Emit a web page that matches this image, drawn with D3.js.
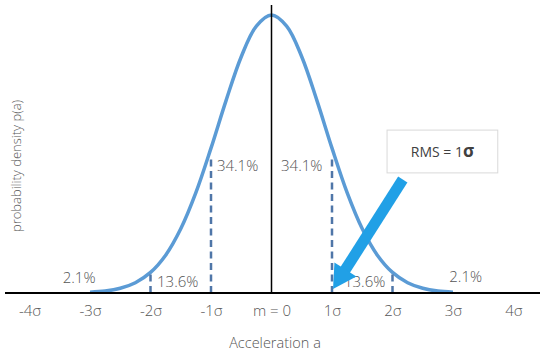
<!DOCTYPE html>
<html>
<head>
<meta charset="utf-8">
<script src="https://cdn.jsdelivr.net/npm/d3@7"></script>
<style>
  body { margin: 0; background: #fff; }
  svg text { font-family: "Open Sans", "Noto Sans", sans-serif; font-weight: 300; fill: #555; }
</style>
</head>
<body>
<svg></svg>
<script>
// curve, x in sigma units, y relative to the peak
const curveX = [-3, -2.75, -2.5, -2.25, -2, -1.75, -1.5, -1.25, -1, -0.75, -0.5, -0.25,
                0, 0.25, 0.5, 0.75, 1, 1.25, 1.5, 1.75, 2, 2.25, 2.5, 2.75, 3];
const curveY = [0.003, 0.007, 0.017, 0.037, 0.074, 0.136, 0.231, 0.361, 0.521, 0.693, 0.85, 0.96,
                1, 0.96, 0.85, 0.693, 0.521, 0.361, 0.231, 0.136, 0.074, 0.037, 0.017, 0.007, 0.003];

const tickValues = [-4, -3, -2, -1, 0, 1, 2, 3, 4];
const tickLabels = ["-4σ", "-3σ", "-2σ", "-1σ", "m = 0", "1σ", "2σ", "3σ", "4σ"];

// dashed markers at ±1σ / ±2σ
const dashX = [-2, -1, 1, 2];
const dashTop = [0.072, 0.48, 0.48, 0.072];

// area percentages
const pctText = ["2.1%", "13.6%", "34.1%", "34.1%", "13.6%", "2.1%"];
const pctX = [-3.18, -1.55, -0.56, 0.5, 1.54, 3.21];
const pctY = [0.035, 0.0216, 0.439, 0.439, 0.0216, 0.0406];

// RMS callout
const arrowFrom = [2.17, 0.408];
const arrowTo = [1.017, 0.0144];
const boxX = [1.91, 3.74];
const boxY = [0.586, 0.432];

const width = 540, height = 351;
const svg = d3.select("svg").attr("width", width).attr("height", height);

const x = d3.scaleLinear().domain([-4, 4]).range([29.5, 513.5]);
const y = d3.scaleLinear().domain([0, 1]).range([293, 15]);

const pts = curveX.map((d, i) => [d, curveY[i]]);

svg.append("path")
    .datum(pts)
    .attr("fill", "none")
    .attr("stroke", "#5b9bd5")
    .attr("stroke-width", 3.5)
    .attr("d", d3.line().x(d => x(d[0])).y(d => y(d[1])).curve(d3.curveCatmullRom));

svg.selectAll(".dash")
    .data(dashX)
    .enter()
    .append("line")
    .attr("class", "dash")
    .attr("x1", d => x(d)).attr("x2", d => x(d))
    .attr("y1", y(0)).attr("y2", (d, i) => y(dashTop[i]))
    .attr("stroke", "#4f76a8")
    .attr("stroke-width", 2.5)
    .attr("stroke-dasharray", "7,4.5");

// centre line
svg.append("line")
    .attr("x1", x(0)).attr("x2", x(0))
    .attr("y1", 5).attr("y2", y(0))
    .attr("stroke", "#000")
    .attr("stroke-width", 1.5);

// x axis
const xAxis = svg.append("g")
    .attr("transform", `translate(0,${y(0)})`)
    .call(d3.axisBottom(x)
        .tickValues(tickValues)
        .tickSize(0)
        .tickPadding(12)
        .tickFormat((d, i) => tickLabels[i]));
xAxis.select(".domain").remove();
xAxis.selectAll("text")
    .style("font-family", "'Open Sans', 'Noto Sans', sans-serif")
    .style("font-size", "15px")
    .style("font-weight", 300)
    .attr("fill", "#555");

svg.append("line")
    .attr("x1", 5).attr("x2", 540)
    .attr("y1", y(0)).attr("y2", y(0))
    .attr("stroke", "#000")
    .attr("stroke-width", 2);

svg.selectAll(".pct")
    .data(pctText)
    .enter()
    .append("text")
    .attr("class", "pct")
    .attr("x", (d, i) => x(pctX[i]))
    .attr("y", (d, i) => y(pctY[i]))
    .attr("text-anchor", "middle")
    .style("font-size", "15px")
    .text(d => d);

svg.append("text")
    .attr("x", 275)
    .attr("y", 348)
    .attr("text-anchor", "middle")
    .style("font-size", "14.5px")
    .text("Acceleration a");

svg.append("text")
    .attr("transform", "translate(21,166) rotate(-90)")
    .attr("text-anchor", "middle")
    .style("font-size", "13px")
    .text("probability density p(a)");

// arrow
const x0 = x(arrowFrom[0]), y0 = y(arrowFrom[1]);
const x1 = x(arrowTo[0]), y1 = y(arrowTo[1]);
const len = Math.hypot(x1 - x0, y1 - y0);
const ux = (x1 - x0) / len, uy = (y1 - y0) / len;
const headL = 23, headW = 13;
const bx = x1 - ux * headL, by = y1 - uy * headL;

svg.append("line")
    .attr("x1", x0).attr("y1", y0)
    .attr("x2", bx + ux * 2).attr("y2", by + uy * 2)
    .attr("stroke", "#21a0e6")
    .attr("stroke-width", 11);

svg.append("path")
    .attr("fill", "#21a0e6")
    .attr("d", `M${x1},${y1}L${bx - uy * headW},${by + ux * headW}L${bx + uy * headW},${by - ux * headW}Z`);

// RMS box
svg.append("rect")
    .attr("x", x(boxX[0]))
    .attr("y", y(boxY[0]))
    .attr("width", x(boxX[1]) - x(boxX[0]))
    .attr("height", y(boxY[1]) - y(boxY[0]))
    .attr("fill", "#fff")
    .attr("stroke", "#d9d9d9")
    .attr("stroke-width", 1);

const rms = svg.append("text")
    .attr("x", (x(boxX[0]) + x(boxX[1])) / 2)
    .attr("y", 156.5)
    .attr("text-anchor", "middle")
    .style("font-size", "14px")
    .style("font-weight", 400)
    .style("fill", "#404040");
rms.append("tspan").text("RMS = 1");
rms.append("tspan").style("font-weight", 700).style("font-size", "17px").text("σ");
</script>
</body>
</html>
